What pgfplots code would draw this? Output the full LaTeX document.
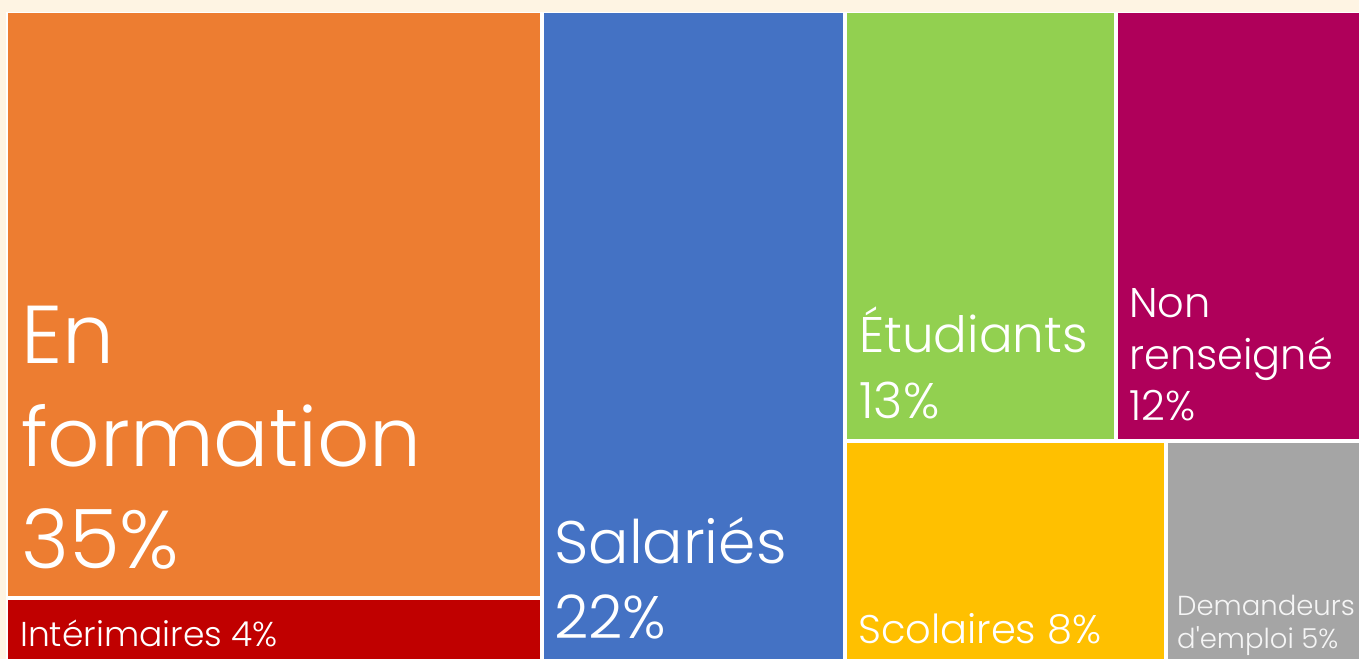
\documentclass[border=0pt]{standalone}
\usepackage{pgfplots}
\pgfplotsset{compat=1.18}
\usepackage{fontspec}
\setmainfont{Poppins Light}
\definecolor{bgcream}{HTML}{FEF4E3}
\definecolor{corange}{HTML}{ED7D31}
\definecolor{cred}{HTML}{C00000}
\definecolor{cblue}{HTML}{4472C4}
\definecolor{cgreen}{HTML}{92D050}
\definecolor{cmagenta}{HTML}{AF005A}
\definecolor{cyellow}{HTML}{FFC000}
\definecolor{cgray}{HTML}{A5A5A5}
\newcommand{\lbl}[4]{\node[anchor=base west,inner sep=0pt,text=#4,font=\fontsize{#3}{#3}\selectfont] at (axis cs:#1) {#2};}
\begin{document}
\begin{tikzpicture}
\begin{axis}[
  width=1359bp, height=659bp, scale only axis,
  xmin=0, xmax=1359, ymin=0, ymax=659, y dir=reverse,
  hide axis, clip=true,
]
% background
\addplot[fill=bgcream, draw=none] coordinates {(0,0) (1359,0) (1359,659) (0,659)} -- cycle;
\addplot[fill=white, draw=none] coordinates {(6,12) (1359,12) (1359,659) (6,659)} -- cycle;
% treemap tiles: En formation 35%, Interimaires 4%, Salaries 22%, Etudiants 13%, Non renseigne 12%, Scolaires 8%, Demandeurs d'emploi 5%
\addplot[fill=corange, draw=none] coordinates {(8,13) (540,13) (540,596) (8,596)} -- cycle;
\addplot[fill=cred, draw=none] coordinates {(8,600) (540,600) (540,659) (8,659)} -- cycle;
\addplot[fill=cblue, draw=none] coordinates {(544,13) (842.7,13) (842.7,659) (544,659)} -- cycle;
\addplot[fill=cgreen, draw=none] coordinates {(846.7,13) (1114.3,13) (1114.3,439.3) (846.7,439.3)} -- cycle;
\addplot[fill=cmagenta, draw=none] coordinates {(1118.3,13) (1359,13) (1359,439.3) (1118.3,439.3)} -- cycle;
\addplot[fill=cyellow, draw=none] coordinates {(846.7,443.3) (1164.3,443.3) (1164.3,659) (846.7,659)} -- cycle;
\addplot[fill=cgray, draw=none] coordinates {(1168.3,443.3) (1359,443.3) (1359,659) (1168.3,659)} -- cycle;
% labels
\lbl{21,363}{En}{82bp}{white}
\lbl{21,466}{formation}{82bp}{white}
\lbl{21,568}{35\%}{82bp}{white}
\lbl{20,646}{Intérimaires 4\%}{34.5bp}{white}
\lbl{554,563}{Salariés}{60bp}{white}
\lbl{554,638}{22\%}{60bp}{white}
\lbl{859,352}{Étudiants}{50bp}{white}
\lbl{859,418}{13\%}{50bp}{white}
\lbl{1129,317}{Non}{41.5bp}{white}
\lbl{1129,369}{renseigné}{41.5bp}{white}
\lbl{1129,420}{12\%}{41.5bp}{white}
\lbl{858,643}{Scolaires 8\%}{40bp}{white}
\lbl{1177,615}{Demandeurs}{27.5bp}{white!92!gray}
\lbl{1177,648}{d\textquotesingle emploi 5\%}{27.5bp}{white!92!gray}
\end{axis}
\end{tikzpicture}
\end{document}
